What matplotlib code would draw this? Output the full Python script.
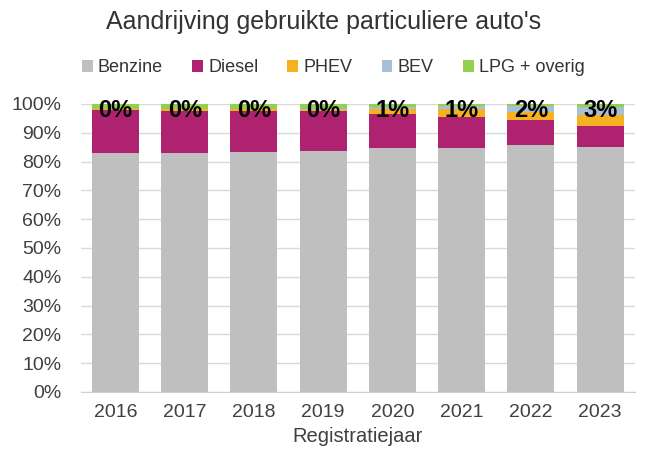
import matplotlib
matplotlib.use("Agg")
import matplotlib.pyplot as plt
import numpy as np

plt.rcParams['font.family'] = ['Liberation Sans', 'DejaVu Sans']

jaren = ["2016", "2017", "2018", "2019", "2020", "2021", "2022", "2023"]
benzine = [83.0, 83.0, 83.2, 83.8, 84.7, 84.7, 85.8, 85.0]
diesel = [14.8, 14.7, 14.4, 13.6, 11.8, 10.8, 8.7, 7.3]
phev = [0.3, 0.4, 0.5, 0.6, 1.8, 2.7, 2.8, 3.8]
bev = [0.2, 0.2, 0.3, 0.4, 0.8, 1.0, 1.9, 3.0]
lpg = [1.7, 1.7, 1.6, 1.6, 0.9, 0.8, 0.8, 0.9]
bev_labels = ["0%", "0%", "0%", "0%", "1%", "1%", "2%", "3%"]

series = [("Benzine", benzine, "#BFBFBF"),
          ("Diesel", diesel, "#AE2270"),
          ("PHEV", phev, "#F5B120"),
          ("BEV", bev, "#A8BFD8"),
          ("LPG + overig", lpg, "#92D050")]

fig = plt.figure(figsize=(6.47, 4.55), dpi=100)
ax = fig.add_axes([0.125, 0.1385, 0.856, 0.633])

x = np.arange(len(jaren))
bottom = np.zeros(len(jaren))
for name, vals, col in series:
    ax.bar(x, vals, 0.68, bottom=bottom, color=col, label=name, zorder=2)
    bottom += np.array(vals)

for i, lab in enumerate(bev_labels):
    ax.text(x[i], 97.8, lab, ha="center", va="center", fontsize=17,
            fontweight="bold", color="black", zorder=3)

ax.set_xlim(-0.5, len(jaren) - 0.5)
ax.set_ylim(0, 100)
ax.set_yticks(np.arange(0, 101, 10))
ax.set_yticklabels([f"{v}%" for v in range(0, 101, 10)])
ax.set_xticks(x)
ax.set_xticklabels(jaren)
ax.tick_params(axis="both", length=0, labelsize=14, colors="#404040")
ax.tick_params(axis="y", pad=14)
ax.tick_params(axis="x", pad=9)
ax.yaxis.grid(True, color="#D9D9D9", linewidth=1, zorder=0)
for s in ["top", "right", "left"]:
    ax.spines[s].set_visible(False)
ax.spines["bottom"].set_color("#D0D0D0")
ax.set_xlabel("Registratiejaar", fontsize=14.5, color="#404040", labelpad=4)

fig.text(0.5, 0.952, "Aandrijving gebruikte particuliere auto's", ha="center",
         va="center", fontsize=18, color="#333333")
fig.legend(loc="center", bbox_to_anchor=(0.515, 0.851), ncol=5, frameon=False,
           fontsize=13, handlelength=0.6, handleheight=0.6, handletextpad=0.3,
           columnspacing=1.6, labelcolor="#333333")

fig.savefig("out.png", dpi=100)
